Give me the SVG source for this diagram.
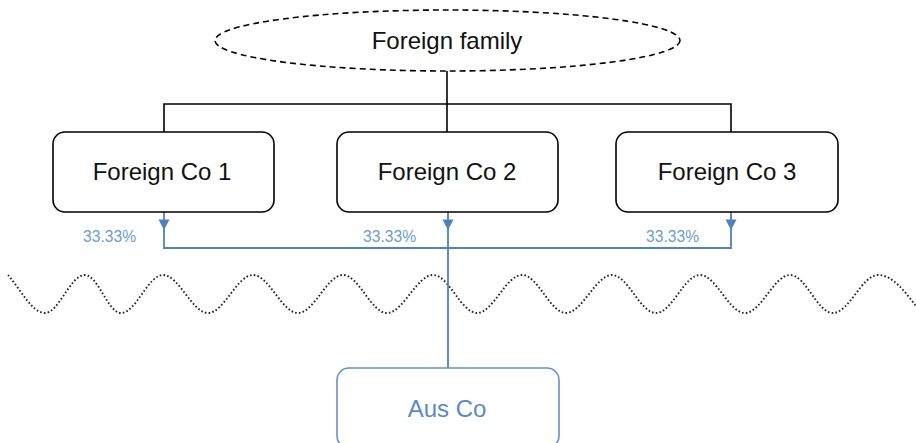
<svg xmlns="http://www.w3.org/2000/svg" width="916" height="443" viewBox="0 0 916 443">
<style>
.box{fill:#ffffff;stroke:#000000;stroke-width:1.6}
.t{font-family:"Liberation Sans",Arial,sans-serif;font-size:24px;fill:#111111;text-anchor:middle}
.blk{fill:none;stroke:#000000;stroke-width:1.6}
.blu{fill:none;stroke:#4f81c2;stroke-width:1.8}
.ah{fill:#4f81c2}
.pct{font-family:"Liberation Sans",Arial,sans-serif;font-size:15.6px;fill:#6d9bd6;text-anchor:end}
</style>
<rect width="916" height="443" fill="#ffffff"/>
<g id="wave">
<path d="M8,275 C21,290 32,313 45,313 C59,313 70,275 85,275 C98,275 108,313 121,313 C136,313 148,275 163,275 C179,275 192,313 208,313 C224,313 237,275 253,275 C269,275 282,313 298,313 C314,313 327,275 343,275 C359,275 371,313 387,313 C403,313 417,275 433,275 C449,275 461,313 477,313 C493,313 506,275 522,275 C538,275 550,313 566,313 C582,313 596,275 612,275 C628,275 640,313 656,313 C672,313 684,275 700,275 C716,275 729,313 745,313 C761,313 774,275 790,275 C806,275 817,313 833,313 C849,313 862,275 878,275 C893,275 905,292 916,306" fill="none" stroke="#222222" stroke-width="1.9" stroke-dasharray="1.6 2.2"/>
</g>
<g id="connectors">
<path class="blk" d="M447,71 V132"/>
<path class="blk" d="M164,132 V104 H731 V132"/>
<path class="blu" d="M164,212 V248 H731 V212"/>
<path class="blu" d="M448,212 V368"/>
<polygon class="ah" points="158.5,219.5 169.5,219.5 164,230"/>
<polygon class="ah" points="442.5,219.5 453.5,219.5 448,230"/>
<polygon class="ah" points="725.5,219.5 736.5,219.5 731,230"/>
<text class="pct" x="136" y="242">33.33%</text>
<text class="pct" x="416" y="242">33.33%</text>
<text class="pct" x="699" y="242">33.33%</text>
</g>
<g id="foreign-family">
<ellipse cx="447.5" cy="40.5" rx="232.5" ry="30.5" fill="#ffffff" stroke="#000000" stroke-width="1.6" stroke-dasharray="6 4"/>
<text class="t" x="447" y="49">Foreign family</text>
</g>
<g id="foreign-co-1">
<rect class="box" x="53" y="132" width="221" height="80" rx="12"/>
<text class="t" x="162" y="180">Foreign Co 1</text>
</g>
<g id="foreign-co-2">
<rect class="box" x="337" y="132" width="221" height="80" rx="12"/>
<text class="t" x="447" y="180">Foreign Co 2</text>
</g>
<g id="foreign-co-3">
<rect class="box" x="616" y="132" width="222" height="80" rx="12"/>
<text class="t" x="727" y="180">Foreign Co 3</text>
</g>
<g id="aus-co">
<rect x="337" y="368" width="222" height="80" rx="12" fill="#ffffff" stroke="#6690cc" stroke-width="1.6"/>
<text class="t" x="447" y="417" style="fill:#5b88c8">Aus Co</text>
</g>
</svg>
